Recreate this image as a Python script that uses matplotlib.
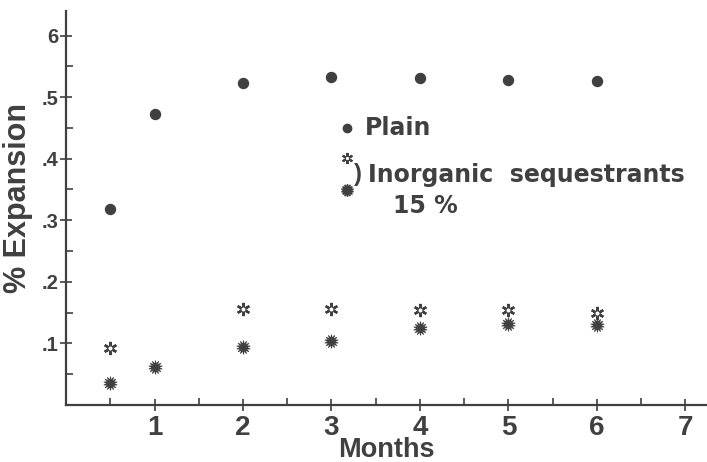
import matplotlib
matplotlib.use("Agg")
import matplotlib.pyplot as plt
from matplotlib.ticker import MultipleLocator

# Data
months_plain = [0.5, 1, 2, 3, 4, 5, 6]
plain = [0.318, 0.472, 0.523, 0.532, 0.531, 0.528, 0.526]
months_open = [0.5, 2, 3, 4, 5, 6]
seq_open = [0.0925, 0.156, 0.156, 0.154, 0.154, 0.149]
months_filled = [0.5, 1, 2, 3, 4, 5, 6]
seq_filled = [0.036, 0.062, 0.094, 0.104, 0.125, 0.131, 0.130]
x_ticks = [1, 2, 3, 4, 5, 6, 7]
x_ticklabels = ["1", "2", "3", "4", "5", "6", "7"]
y_ticks = [0.1, 0.2, 0.3, 0.4, 0.5, 0.6]
y_ticklabels = [".1", ".2", ".3", ".4", ".5", "6"]

INK = "#404040"
plt.rcParams['font.family'] = ['Liberation Sans', 'DejaVu Sans']

fig = plt.figure(figsize=(7.07, 4.62), dpi=100)
ax = fig.add_axes([0.0934, 0.1234, 0.906, 0.853])
ax.set_xlim(0, 7.24)
ax.set_ylim(0, 0.64)

for s in ['top', 'right']:
    ax.spines[s].set_visible(False)
for s in ['left', 'bottom']:
    ax.spines[s].set_color(INK)
    ax.spines[s].set_linewidth(1.6)

ax.set_xticks(x_ticks)
ax.set_xticklabels(x_ticklabels)
ax.set_yticks(y_ticks)
ax.set_yticklabels(y_ticklabels)
ax.xaxis.set_minor_locator(MultipleLocator(0.5))
ax.yaxis.set_minor_locator(MultipleLocator(0.05))
ax.tick_params(axis='x', which='major', direction='inout', length=9, width=1.2, colors=INK,
               labelsize=20, pad=3)
ax.tick_params(axis='y', which='major', direction='inout', length=9, width=1.2, colors=INK,
               labelsize=14.5, pad=1)
ax.tick_params(which='minor', direction='in', length=5, width=1.2, colors=INK)
for lab in ax.get_xticklabels() + ax.get_yticklabels():
    lab.set_fontweight('bold')

ax.set_xlabel("Months", fontsize=19.5, fontweight='bold', color=INK)
ax.xaxis.set_label_coords(0.5, -0.08)
ax.set_ylabel("% Expansion", fontsize=22, fontweight='bold', color=INK)
ax.yaxis.set_label_coords(-0.052, 0.525)

# markers
ax.plot(months_plain, plain, linestyle='none', marker='o', markersize=7.2, color=INK, mec=INK)
ax.plot(months_open, seq_open, linestyle='none', marker=(6, 2, 0), markersize=9.5,
        mew=1.7, color=INK)
ax.plot(months_open, seq_open, linestyle='none', marker='o', markersize=3.8,
        color='white', mec=INK, mew=0.9)
ax.plot(months_filled, seq_filled, linestyle='none', marker=(14, 1, 0), markersize=10,
        color=INK, mec=INK, mew=0.5)

# legend (annotation style)
tr = ax.transAxes
LF = dict(fontsize=17, fontweight='bold', color=INK, va='center', ha='left',
          family=['DejaVu Sans'], transform=tr)
ax.plot([0.438], [0.703], transform=tr, marker='o', markersize=6, color=INK, clip_on=False)
ax.text(0.466, 0.703, "Plain", **LF)
ax.plot([0.438], [0.627], transform=tr, marker=(6, 2, 0), markersize=8, mew=1.5, color=INK)
ax.plot([0.438], [0.627], transform=tr, marker='o', markersize=3.2, color='white', mec=INK, mew=0.8)
ax.plot([0.438], [0.546], transform=tr, marker=(14, 1, 0), markersize=9, color=INK, mec=INK)
ax.text(0.449, 0.586, ")", transform=tr, fontsize=17, fontweight='bold', color=INK,
        va='center', ha='left')
ax.text(0.472, 0.584, "Inorganic  sequestrants", **LF)
ax.text(0.510, 0.505, "15 %", **LF)

fig.savefig("out.png", dpi=100)
